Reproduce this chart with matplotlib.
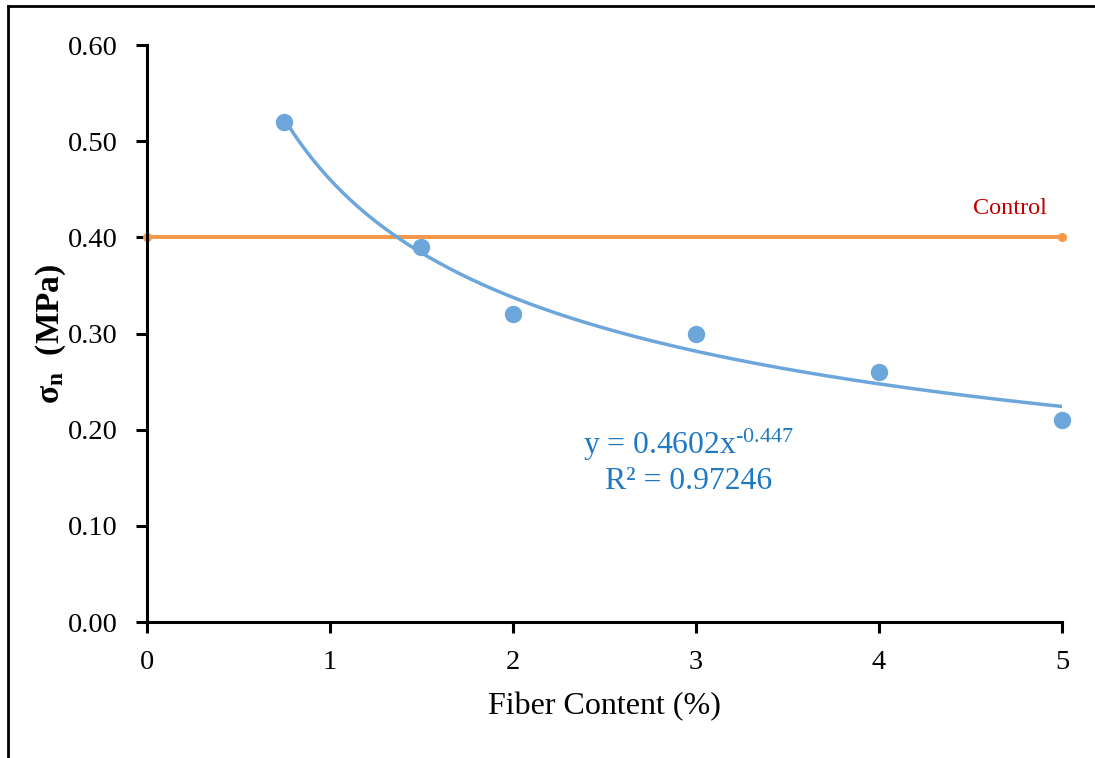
import numpy as np
import matplotlib
matplotlib.use("Agg")
import matplotlib.pyplot as plt
from matplotlib.lines import Line2D

# data
fiber = [0.75, 1.5, 2, 3, 4, 5]
sigma_n = [0.52, 0.39, 0.32, 0.30, 0.26, 0.21]
control_x = [0, 5]
control_y = [0.40, 0.40]

# power trendline shown on the chart: y = a * x^b
coef_a = 0.4602
coef_b = -0.447
r2 = 0.97246

x_ticks = [0, 1, 2, 3, 4, 5]
y_ticks = [0.0, 0.1, 0.2, 0.3, 0.4, 0.5, 0.6]

plt.rcParams['font.family'] = ['Liberation Serif', 'DejaVu Serif']
plt.rcParams['mathtext.fontset'] = 'custom'
plt.rcParams['mathtext.rm'] = 'Liberation Serif'
plt.rcParams['mathtext.bf'] = 'Liberation Serif:bold'
plt.rcParams['mathtext.it'] = 'Liberation Serif:italic'
plt.rcParams['mathtext.default'] = 'regular'

blue = '#6CA6DA'
orange = '#F79646'

fig = plt.figure(figsize=(10.95, 7.58), dpi=100)
ax = fig.add_axes([0.1342, 0.1794, 0.8357, 0.7612])

# control line
ax.plot(control_x, control_y, color=orange, lw=2.8, marker='o', markersize=5.5,
        clip_on=False, zorder=2)

# trend line
xs = np.linspace(min(fiber), max(fiber), 200)
ax.plot(xs, coef_a * xs ** coef_b, color=blue, lw=2.5, zorder=3)

# measured points
ax.plot(fiber, sigma_n, 'o', color=blue, markersize=11.5, zorder=4, clip_on=False)

ax.set_xlim(0, 5)
ax.set_ylim(0, 0.6)
ax.set_xticks(x_ticks)
ax.set_xticklabels([str(t) for t in x_ticks])
ax.set_yticks(y_ticks)
ax.set_yticklabels([f"{t:.2f}" for t in y_ticks])

for side in ['top', 'right']:
    ax.spines[side].set_visible(False)
for side in ['left', 'bottom']:
    ax.spines[side].set_linewidth(2.2)
ax.tick_params(axis='both', direction='out', length=8, width=2.2, labelsize=20.5)
ax.tick_params(axis='y', pad=13)
ax.tick_params(axis='x', pad=12)

ax.set_xlabel('Fiber Content (%)', fontsize=23, labelpad=12)
ax.set_ylabel(r'σ$_\mathbf{n}$  (MPa)', fontsize=24, fontweight='bold', labelpad=0)

ax.text(2.96, 0.167, f"y = {coef_a}x$^{{\\text{{{coef_b}}}}}$\nR² = {r2}", color='#1F78C2',
        fontsize=22.8, ha='center', va='center', linespacing=1.15)
ax.text(4.716, 0.4305, 'Control', color='#C00000', fontsize=17.5, ha='center', va='center')

# outer frame (left and top edges visible in the crop)
fig.add_artist(Line2D([0.0073, 0.0073], [0, 0.992], transform=fig.transFigure, color='black', lw=2))
fig.add_artist(Line2D([0.0073, 1], [0.992, 0.992], transform=fig.transFigure, color='black', lw=2))

fig.savefig('out.png', dpi=100)
